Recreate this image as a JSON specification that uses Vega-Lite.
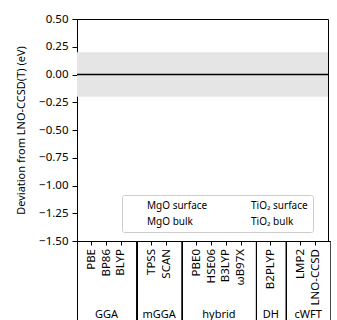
{
  "$schema": "https://vega.github.io/schema/vega-lite/v6.json",
  "padding": {"left": 15, "top": 12, "right": 0, "bottom": 0},
  "datasets": {
    "methods": [
      {"method": "PBE", "group": "GGA"},
      {"method": "BP86", "group": "GGA"},
      {"method": "BLYP", "group": "GGA"},
      {"method": "TPSS", "group": "mGGA"},
      {"method": "SCAN", "group": "mGGA"},
      {"method": "PBE0", "group": "hybrid"},
      {"method": "HSE06", "group": "hybrid"},
      {"method": "B3LYP", "group": "hybrid"},
      {"method": "ωB97X", "group": "hybrid"},
      {"method": "B2PLYP", "group": "DH"},
      {"method": "LMP2", "group": "cWFT"},
      {"method": "LNO-CCSD", "group": "cWFT"}
    ],
    "band": [{"lower": -0.2, "upper": 0.2}],
    "zero": [{"ref": 0}],
    "series": [
      {"series": "MgO surface"},
      {"series": "MgO bulk"},
      {"series": "TiO₂ surface"},
      {"series": "TiO₂ bulk"}
    ]
  },
  "vconcat": [
    {
      "width": 251,
      "height": 222,
      "layer": [
        {
          "data": {"name": "band"},
          "mark": {"type": "rect", "color": "#e5e5e5"},
          "encoding": {
            "y": {"field": "lower", "type": "quantitative", "title": "Deviation from LNO-CCSD(T) (eV)",
                  "scale": {"domain": [-1.5, 0.5], "nice": false, "zero": false},
                  "axis": {"values": [-1.5, -1.25, -1.0, -0.75, -0.5, -0.25, 0, 0.25, 0.5], "format": ".2f", "grid": false,
                           "tickSize": 5, "labelPadding": 4, "titlePadding": 12, "labelOverlap": false}},
            "y2": {"field": "upper"}
          }
        },
        {
          "data": {"name": "zero"},
          "mark": {"type": "rule", "color": "black", "strokeWidth": 1.5},
          "encoding": {
            "y": {"field": "ref", "type": "quantitative", "title": "Deviation from LNO-CCSD(T) (eV)",
                  "axis": {"values": [-1.5, -1.25, -1.0, -0.75, -0.5, -0.25, 0, 0.25, 0.5], "format": ".2f", "grid": false,
                           "tickSize": 5, "labelPadding": 4, "titlePadding": 12, "labelOverlap": false}}
          }
        },
        {
          "data": {"name": "series"},
          "mark": {"type": "point", "filled": true},
          "encoding": {
            "y": {"field": "dev", "type": "quantitative", "title": "Deviation from LNO-CCSD(T) (eV)",
                  "axis": {"values": [-1.5, -1.25, -1.0, -0.75, -0.5, -0.25, 0, 0.25, 0.5], "format": ".2f", "grid": false,
                           "tickSize": 5, "labelPadding": 4, "titlePadding": 12, "labelOverlap": false}},
            "color": {"field": "series", "type": "nominal",
                      "scale": {"domain": ["MgO surface", "MgO bulk", "TiO₂ surface", "TiO₂ bulk"]},
                      "legend": {"orient": "none", "legendX": 45, "legendY": 176, "columns": 2, "title": null,
                                 "symbolOpacity": 0, "symbolSize": 100, "labelOffset": 8, "padding": 5,
                                 "rowPadding": 5, "columnPadding": 23, "strokeColor": "#cccccc", "fillColor": "white",
                                 "cornerRadius": 2, "labelFontSize": 10, "labelLimit": 200, "labelColor": "black"}}
          }
        }
      ]
    },
    {
      "data": {"name": "methods"},
      "facet": {
        "column": {"field": "group", "type": "nominal", "sort": ["GGA", "mGGA", "hybrid", "DH", "cWFT"], "title": null,
                   "header": {"labelOrient": "bottom", "labelPadding": -12, "labelFontSize": 11, "labelColor": "black"}}
      },
      "spacing": 0,
      "align": "none",
      "bounds": "flush",
      "resolve": {"scale": {"x": "independent"}},
      "spec": {
        "width": {"step": 14.765},
        "height": 80,
        "mark": {"type": "text", "angle": 270, "align": "right", "baseline": "middle", "dx": 32, "fontSize": 11.5},
        "encoding": {
          "x": {"field": "method", "type": "nominal", "sort": null, "title": null,
                "scale": {"type": "band", "paddingInner": 0, "paddingOuter": 0.5},
                "axis": {"orient": "bottom", "offset": -80, "labels": false, "domain": false, "tickSize": 4, "title": null}},
          "text": {"field": "method"}
        }
      }
    }
  ],
  "spacing": 0,
  "bounds": "flush",
  "config": {
    "font": "Noto Sans",
    "view": {"stroke": "black", "strokeWidth": 1},
    "axis": {"labelFontSize": 11.5, "titleFontSize": 11, "titleFontWeight": "normal", "labelColor": "black", "titleColor": "black", "tickColor": "black", "domainColor": "black"},
    "text": {"color": "black"}
  }
}
